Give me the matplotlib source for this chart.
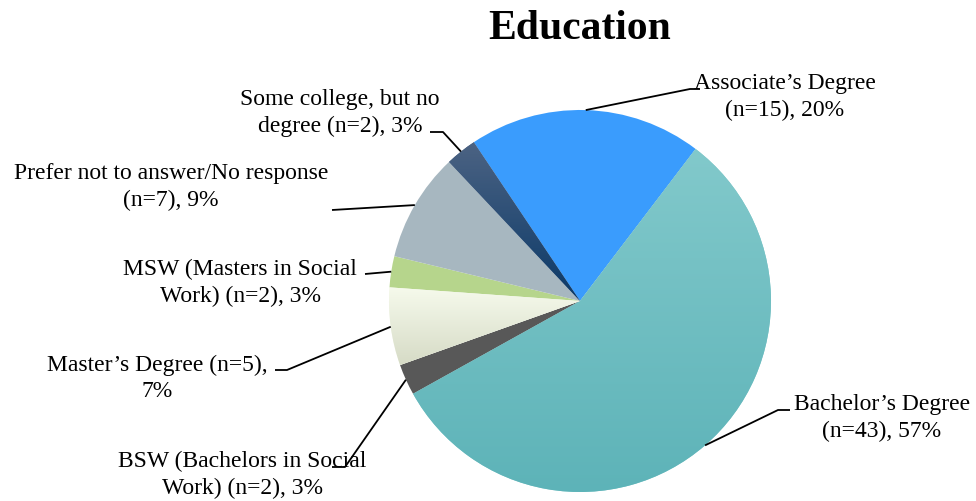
import numpy as np
import matplotlib
matplotlib.use("Agg")
import matplotlib.pyplot as plt
from matplotlib.colors import LinearSegmentedColormap

# Survey responses by highest education level
categories = [
    "Associate\u2019s Degree",
    "Bachelor\u2019s Degree",
    "BSW (Bachelors in Social Work)",
    "Master\u2019s Degree",
    "MSW (Masters in Social Work)",
    "Prefer not to answer/No response",
    "Some college, but no degree",
]
counts = [15, 43, 2, 5, 2, 7, 2]
percents = [20, 57, 3, 7, 3, 9, 3]
label_texts = [
    "Associate\u2019s Degree\n(n=15), 20%",
    "Bachelor\u2019s Degree\n(n=43), 57%",
    "BSW (Bachelors in Social\nWork) (n=2), 3%",
    "Master\u2019s Degree (n=5),\n7%",
    "MSW (Masters in Social\nWork) (n=2), 3%",
    "Prefer not to answer/No response\n(n=7), 9%",
    "Some college, but no\ndegree (n=2), 3%",
]

# (top colour, bottom colour) for each wedge's vertical fill
wedge_colors = [
    ("#3A9CFD", "#3A9CFD"),
    ("#82C9CB", "#5DB3B8"),
    ("#585858", "#585858"),
    ("#F6FAEC", "#D6DBC6"),
    ("#B6D58C", "#B6D58C"),
    ("#A7B7C0", "#A7B7C0"),
    ("#4C6383", "#0A3968"),
]

# label text centres and leader-line elbows (pixel coords, y from top)
label_pos = [(785, 97), (882, 418), (242, 475), (157, 378), (240, 283), (171, 187), (340, 113)]
elbows = [[(690, 90), (700, 90)],
          [(778, 411), (790, 411)],
          [(345, 468), (332, 468)],
          [(287, 371), (275, 371)],
          [(365, 275)],
          [(332, 211)],
          [(443, 133), (430, 133)]]

W, H = 976, 502
fig = plt.figure(figsize=(W / 100, H / 100), dpi=100)
ax = fig.add_axes([0, 0, 1, 1])

cx, cy, r = 580, H - 302, 191
wedges, _ = ax.pie(counts, center=(cx, cy), radius=r, startangle=123.8,
                   counterclock=False, colors=[c[0] for c in wedge_colors],
                   wedgeprops=dict(linewidth=0), frame=True)
ax.set_xlim(0, W)
ax.set_ylim(0, H)
ax.set_aspect("equal")
ax.axis("off")

# vertical gradient fills clipped to each wedge
for w, (top, bot) in zip(wedges, wedge_colors):
    if top == bot:
        continue
    path = w.get_path()
    ys = w.get_patch_transform().transform(path.vertices)[:, 1]
    y0, y1 = ys.min(), ys.max()
    cmap = LinearSegmentedColormap.from_list("g", [bot, top])
    grad = np.linspace(0, 1, 256).reshape(-1, 1)
    im = ax.imshow(grad, cmap=cmap, origin="lower", aspect="auto",
                   extent=(cx - r, cx + r, y0, y1), zorder=w.get_zorder() + 0.1,
                   interpolation="bilinear")
    im.set_clip_path(w)

fs = 17
font = "Liberation Serif"
for w, txt, (lx, ly), elb in zip(wedges, label_texts, label_pos, elbows):
    mid = np.deg2rad((w.theta1 + w.theta2) / 2)
    sx, sy = cx + r * np.cos(mid), cy + r * np.sin(mid)
    xs = [sx] + [p[0] for p in elb]
    ys = [sy] + [H - p[1] for p in elb]
    ax.plot(xs, ys, color="black", lw=1.3, solid_capstyle="butt", zorder=5)
    ax.text(lx, H - ly, txt, ha="center", va="center", fontsize=fs,
            family=font, linespacing=1.32, zorder=6)

ax.text(580, H - 29, "Education", ha="center", va="center", fontsize=30,
        fontweight="bold", family=font)

fig.savefig("out.png", dpi=100)
